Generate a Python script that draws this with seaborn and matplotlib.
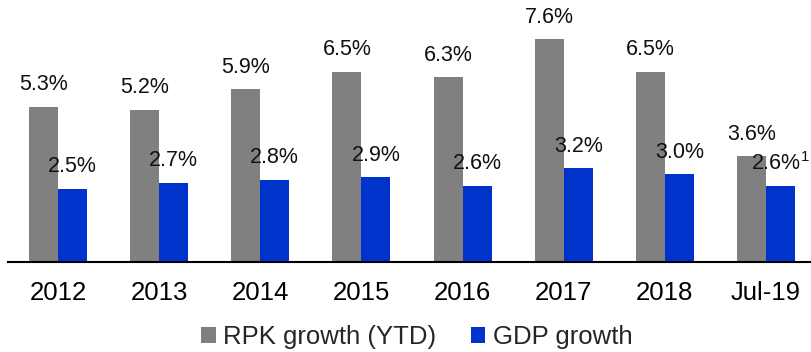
import matplotlib
matplotlib.use("Agg")
import matplotlib.pyplot as plt
from matplotlib.patches import Patch
import seaborn as sns
import pandas as pd

periods = ["2012", "2013", "2014", "2015", "2016", "2017", "2018", "Jul-19"]
rpk_growth = [5.3, 5.2, 5.9, 6.5, 6.3, 7.6, 6.5, 3.6]
gdp_growth = [2.5, 2.7, 2.8, 2.9, 2.6, 3.2, 3.0, 2.6]
series_names = ["RPK growth (YTD)", "GDP growth"]
series_colors = ["#808080", "#0033CC"]
footnotes = {("GDP growth", "Jul-19"): "1"}

sns.set_theme(style="white")
plt.rcParams["font.family"] = ["Liberation Sans", "DejaVu Sans"]
plt.rcParams["mathtext.fontset"] = "custom"
plt.rcParams["mathtext.rm"] = "Liberation Sans"
plt.rcParams["mathtext.it"] = "Liberation Sans"

df = pd.DataFrame({
    "period": periods * 2,
    "series": [series_names[0]] * len(periods) + [series_names[1]] * len(periods),
    "value": rpk_growth + gdp_growth,
})

fig = plt.figure(figsize=(8.11, 3.52), dpi=100)
ax = fig.add_axes([8 / 811, 90 / 352, 1 - 8 / 811, 262 / 352])

sns.barplot(
    data=df, x="period", y="value", hue="series",
    order=periods, hue_order=series_names,
    palette=series_colors, width=0.574, gap=0,
    saturation=1, linewidth=0, legend=False, ax=ax,
)

values = {series_names[0]: rpk_growth, series_names[1]: gdp_growth}
for name, container in zip(series_names, ax.containers):
    for period, val, bar in zip(periods, values[name], container.patches):
        label = f"{val:.1f}%"
        note = footnotes.get((name, period))
        if note:
            label += f"$^{{{note}}}$"
        ax.annotate(
            label,
            xy=(bar.get_x() + bar.get_width() / 2, val),
            xytext=(0, 22), textcoords="offset pixels",
            ha="center", va="center", fontsize=15.5, color="#111111",
        )

ax.set_xlim(-0.494, 7.445)
ax.set_ylim(0, 8.94)
ax.set_xlabel("")
ax.set_ylabel("")
ax.set_yticks([])
for side in ["left", "right", "top"]:
    ax.spines[side].set_visible(False)
ax.spines["bottom"].set_color("black")
ax.spines["bottom"].set_linewidth(1.5)
ax.tick_params(axis="x", length=0, pad=14, labelsize=18.5, labelcolor="black")

handles = [Patch(facecolor=c, edgecolor="none") for c in series_colors]
fig.legend(
    handles, series_names, loc="center", bbox_to_anchor=(417 / 811, 15 / 352),
    ncol=2, frameon=False, fontsize=18.5,
    handlelength=0.55, handleheight=0.55, handletextpad=0.3,
    columnspacing=1.35, borderpad=0, borderaxespad=0,
)

fig.savefig("out.png", dpi=100)
